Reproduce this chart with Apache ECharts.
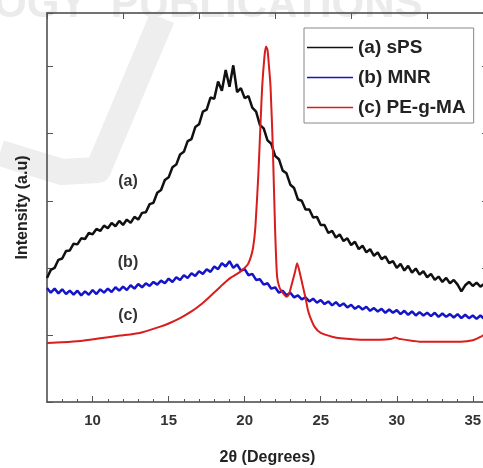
<!DOCTYPE html>
<html>
<head>
<meta charset="utf-8">
<script src="https://cdn.jsdelivr.net/npm/echarts@6/dist/echarts.min.js"></script>
<style>
html, body { margin: 0; padding: 0; background: #fff; }
#chart { width: 483px; height: 468px; }
</style>
</head>
<body>
<div id="chart"></div>
<script>
// sampling grid of the two noisy scans (2θ, degrees)
var thetaStart = 7;
var thetaStep = 0.25;

// (a) sPS, one value per grid step
var spsValues = [
  1.85, 1.97, 2.00, 2.12, 2.14, 2.25, 2.26, 2.36, 2.35, 2.44, 2.43, 2.52,
  2.50, 2.58, 2.55, 2.63, 2.59, 2.67, 2.62, 2.70, 2.64, 2.72, 2.67, 2.76,
  2.72, 2.82, 2.83, 2.95, 2.97, 3.12, 3.16, 3.31, 3.35, 3.50, 3.54, 3.69,
  3.73, 3.89, 3.92, 4.10, 4.14, 4.33, 4.36, 4.54, 4.52, 4.78, 4.64, 4.95,
  4.70, 5.02, 4.62, 4.68, 4.53, 4.56, 4.39, 4.33, 4.13, 4.08, 3.90, 3.85,
  3.67, 3.62, 3.45, 3.41, 3.24, 3.19, 3.02, 3.00, 2.87, 2.87, 2.75, 2.76,
  2.64, 2.64, 2.52, 2.55, 2.45, 2.50, 2.40, 2.44, 2.34, 2.39, 2.28, 2.33,
  2.23, 2.28, 2.18, 2.23, 2.13, 2.17, 2.07, 2.10, 2.00, 2.06, 1.96, 2.03,
  1.93, 1.99, 1.90, 1.95, 1.86, 1.91, 1.82, 1.87, 1.79, 1.85, 1.77, 1.82,
  1.75, 1.65, 1.74, 1.79, 1.73, 1.78, 1.72, 1.76, 1.71
];

// (b) MNR, one value per grid step
var mnrValues = [
  1.70, 1.63, 1.69, 1.62, 1.68, 1.61, 1.66, 1.60, 1.66, 1.59, 1.65, 1.60,
  1.67, 1.61, 1.68, 1.63, 1.69, 1.64, 1.71, 1.66, 1.72, 1.67, 1.74, 1.69,
  1.76, 1.71, 1.77, 1.73, 1.79, 1.75, 1.81, 1.77, 1.84, 1.79, 1.86, 1.82,
  1.89, 1.85, 1.92, 1.88, 1.95, 1.91, 1.98, 1.94, 2.02, 1.98, 2.07, 2.02,
  2.10, 2.00, 2.05, 1.96, 1.98, 1.89, 1.91, 1.82, 1.83, 1.75, 1.77, 1.69,
  1.71, 1.63, 1.66, 1.59, 1.63, 1.56, 1.59, 1.53, 1.56, 1.50, 1.54, 1.48,
  1.52, 1.46, 1.50, 1.44, 1.49, 1.43, 1.47, 1.41, 1.45, 1.39, 1.43, 1.38,
  1.42, 1.36, 1.40, 1.35, 1.39, 1.33, 1.38, 1.33, 1.37, 1.31, 1.36, 1.30,
  1.35, 1.29, 1.34, 1.29, 1.33, 1.28, 1.33, 1.27, 1.32, 1.27, 1.31, 1.26,
  1.31, 1.25, 1.30, 1.25, 1.29, 1.24, 1.29, 1.24, 1.28
];

// (c) PE-g-MA, read at uneven 2θ positions
var pegmaTheta = [
  7.0, 8.0, 9.2, 10.5, 11.8, 13.1, 14.4, 15.0, 15.75, 16.5, 17.1, 17.7,
  18.4, 19.0, 19.7, 20.2, 20.4, 20.55, 20.7, 20.9, 21.05, 21.15, 21.3, 21.4,
  21.5, 21.6, 21.7, 21.85, 22.0, 22.13, 22.3, 22.5, 22.75, 22.9, 23.1, 23.3,
  23.45, 23.6, 23.8, 24.0, 24.15, 24.3, 24.6, 25.0, 25.8, 26.3, 27.6, 28.9,
  29.6, 29.9, 30.2, 31.5, 32.9, 34.2, 35.0, 35.5, 36.0
];
var pegmaValues = [
  0.88, 0.89, 0.91, 0.95, 0.99, 1.03, 1.12, 1.17, 1.25, 1.35, 1.45, 1.57,
  1.72, 1.84, 1.94, 2.05, 2.16, 2.30, 2.60, 3.40, 4.20, 4.70, 5.15, 5.30,
  5.25, 5.00, 4.70, 3.80, 2.57, 1.87, 1.70, 1.63, 1.57, 1.60, 1.76, 1.93,
  2.07, 1.95, 1.75, 1.55, 1.38, 1.27, 1.12, 1.03, 0.97, 0.95, 0.93, 0.93,
  0.94, 0.96, 0.94, 0.90, 0.90, 0.90, 0.92, 0.97, 1.04
];

var seriesNames = ['(a) sPS', '(b) MNR', '(c) PE-g-MA'];
var xLabelTicks = [10, 15, 20, 25, 30, 35];
var xMinorTicks = [8, 9, 10, 11, 12, 13, 14, 15, 16, 17, 18, 19, 20, 21, 22, 23, 24, 25,
                   26, 27, 28, 29, 30, 31, 32, 33, 34, 35];

function onGrid(values) {
  return values.map(function (v, i) { return [thetaStart + i * thetaStep, v]; });
}
function pairs(xs, ys) {
  return xs.map(function (x, i) { return [x, ys[i]]; });
}

var font = '"Liberation Sans", Arial, sans-serif';
var frameColor = '#444';

var myChart = echarts.init(document.getElementById('chart'));

var option = {
  animation: false,
  textStyle: { fontFamily: font },
  grid: { left: 47, right: -5, top: 13, bottom: 66, containLabel: false, outerBoundsMode: 'none' },
  graphic: [
    {
      type: 'text', left: -6, top: -16, z: -5, silent: true,
      style: { text: 'OGY  PUBLICATIONS', font: 'bold 42px ' + font, fill: '#ebebeb' }
    },
    {
      type: 'polyline', z: -5, silent: true,
      shape: { points: [[162, 18], [98, 170], [62, 172], [0, 153]] },
      style: { stroke: '#eeeeee', lineWidth: 26, lineJoin: 'round', fill: null }
    },
    {
      type: 'text', x: 128, y: 182, silent: true,
      style: { text: '(a)', font: 'bold 16px ' + font, fill: '#333', align: 'center', verticalAlign: 'middle' }
    },
    {
      type: 'text', x: 128, y: 263, silent: true,
      style: { text: '(b)', font: 'bold 16px ' + font, fill: '#333', align: 'center', verticalAlign: 'middle' }
    },
    {
      type: 'text', x: 128, y: 316, silent: true,
      style: { text: '(c)', font: 'bold 16px ' + font, fill: '#333', align: 'center', verticalAlign: 'middle' }
    }
  ],
  legend: {
    orient: 'vertical',
    left: 304,
    top: 28,
    padding: [10, 8, 6, 3],
    itemWidth: 46,
    itemHeight: 14,
    itemGap: 11,
    icon: 'path://M0,0L46,0L46,1.6L0,1.6Z',
    borderColor: '#888',
    borderWidth: 1,
    data: seriesNames,
    textStyle: { fontFamily: font, fontWeight: 'bold', fontSize: 19, color: '#222' }
  },
  xAxis: [
    {
      type: 'value', min: 7, max: 36, position: 'bottom',
      name: '2θ (Degrees)', nameLocation: 'middle', nameGap: 48,
      nameTextStyle: { fontFamily: font, fontWeight: 'bold', fontSize: 16, color: '#222' },
      axisLine: { show: true, lineStyle: { color: frameColor, width: 1.5 } },
      axisTick: { inside: true, length: 6, customValues: xLabelTicks, lineStyle: { color: '#555' } },
      axisLabel: { customValues: xLabelTicks, margin: 11, fontFamily: font, fontWeight: 'bold', fontSize: 15, color: '#333' },
      splitLine: { show: false }
    },
    {
      type: 'value', min: 7, max: 36, position: 'bottom',
      axisLine: { show: false },
      axisTick: { inside: true, length: 3, customValues: xMinorTicks, lineStyle: { color: '#555' } },
      axisLabel: { show: false },
      splitLine: { show: false }
    },
    {
      type: 'value', min: 7, max: 36, interval: 5, position: 'top',
      axisLine: { show: true, lineStyle: { color: frameColor, width: 1.5 } },
      axisTick: { inside: true, length: 6, lineStyle: { color: '#555' } },
      axisLabel: { show: false },
      splitLine: { show: false }
    }
  ],
  yAxis: [
    {
      type: 'value', min: 0, max: 5.8, interval: 1, position: 'left',
      name: 'Intensity (a.u)', nameLocation: 'middle', nameGap: 16,
      nameTextStyle: { fontFamily: font, fontWeight: 'bold', fontSize: 16, color: '#222' },
      axisLine: { show: true, lineStyle: { color: frameColor, width: 1.5 } },
      axisTick: { inside: true, length: 6, lineStyle: { color: '#555' } },
      axisLabel: { show: false },
      splitLine: { show: false }
    },
    {
      type: 'value', min: 0, max: 5.8, interval: 1, position: 'right',
      axisLine: { show: true, lineStyle: { color: frameColor, width: 1.5 } },
      axisTick: { inside: true, length: 6, lineStyle: { color: '#555' } },
      axisLabel: { show: false },
      splitLine: { show: false }
    }
  ],
  series: [
    {
      name: seriesNames[0], type: 'line', symbol: 'none',
      color: '#111', lineStyle: { width: 2.5, color: '#111' },
      data: onGrid(spsValues)
    },
    {
      name: seriesNames[1], type: 'line', symbol: 'none',
      color: '#1414c8', lineStyle: { width: 2.5, color: '#1414c8' },
      data: onGrid(mnrValues)
    },
    {
      name: seriesNames[2], type: 'line', symbol: 'none', smooth: 0.2,
      color: '#d91c1c', lineStyle: { width: 2, color: '#d91c1c' },
      data: pairs(pegmaTheta, pegmaValues)
    }
  ]
};

myChart.setOption(option);
</script>
</body>
</html>
